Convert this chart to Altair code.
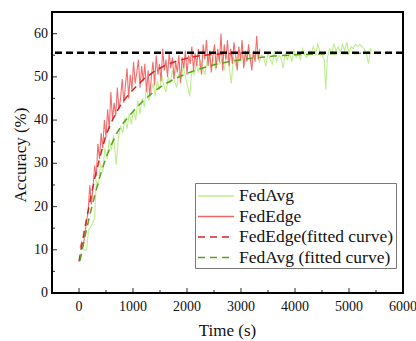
import altair as alt
import pandas as pd

# ---------------- data ----------------
edge_t = [20, 50, 80, 110, 140, 170, 200, 230, 260, 290, 320, 350, 380, 410, 440, 470, 500, 530, 560, 590,
          620, 650, 680, 710, 740, 770, 800, 830, 860, 890, 920, 950, 980, 1010, 1040, 1070, 1100, 1130, 1160, 1190,
          1220, 1250, 1280, 1310, 1340, 1370, 1400, 1430, 1460, 1490, 1520, 1550, 1580, 1610, 1640, 1670, 1700, 1730,
          1760, 1790, 1820, 1850, 1880, 1910, 1940, 1970, 2000, 2030, 2060, 2090, 2120, 2150, 2180, 2210, 2240, 2270,
          2300, 2330, 2360, 2390, 2420, 2450, 2480, 2510, 2540, 2570, 2600, 2630, 2660, 2690, 2720, 2750, 2780, 2810,
          2840, 2870, 2900, 2930, 2960, 2990, 3020, 3050, 3080, 3110, 3140, 3170, 3200, 3230, 3260, 3290, 3320, 3350]
edge_acc = [10.5, 11.8, 10.8, 14.0, 16.5, 19.0, 25.0, 20.5, 24.5, 29.5, 27.0, 34.5, 31.0, 37.0, 33.5, 40.0, 36.0, 42.5, 38.0, 46.5,
            40.0, 44.0, 41.0, 47.5, 42.5, 45.0, 49.5, 44.0, 48.0, 52.0, 45.0, 50.5, 47.0, 53.5, 48.5, 51.0, 54.0, 47.5, 52.5, 49.0,
            53.0, 46.5, 51.5, 45.5, 50.0, 53.5, 48.0, 55.0, 50.5, 53.0, 49.0, 56.5, 51.5, 54.0, 50.0, 55.5, 52.0, 54.5,
            49.5, 53.5, 51.0, 55.0, 48.5, 54.5, 52.0, 56.0, 50.5, 55.0, 53.0, 57.0, 51.5, 55.5, 52.5, 56.5, 53.5, 50.5,
            57.5, 54.0, 58.5, 52.5, 56.0, 51.0, 55.0, 57.5, 52.0, 56.5, 53.5, 60.0, 51.5, 57.5, 54.0, 58.5, 52.5, 56.5,
            53.0, 58.0, 55.0, 51.5, 57.0, 54.0, 58.5, 52.0, 56.0, 53.5, 57.5, 54.5, 51.5, 56.0, 53.5, 59.5, 54.0, 56.5]

avg_t = [20, 60, 100, 140, 175, 210, 250, 290, 320, 360, 400, 440, 480, 520, 560, 600, 640, 690, 730, 770,
         810, 850, 890, 930, 970, 1010, 1050, 1090, 1130, 1170, 1210, 1250, 1290, 1330, 1370, 1410, 1450, 1490, 1530, 1570,
         1610, 1650, 1690, 1730, 1770, 1810, 1850, 1890, 1930, 1970, 2010, 2050, 2090, 2130, 2170, 2210, 2250, 2290, 2330, 2370,
         2410, 2450, 2490, 2530, 2570, 2610, 2650, 2690, 2730, 2770, 2820, 2860, 2900, 2940, 2980, 3020, 3060, 3100, 3140, 3180,
         3220, 3260, 3300, 3340, 3380, 3420, 3460, 3500, 3540, 3580, 3620, 3660, 3700, 3740, 3780, 3820, 3860, 3900, 3940, 3980,
         4020, 4060, 4100, 4140, 4180, 4220, 4260, 4300, 4340, 4380, 4420, 4460, 4500, 4540, 4570, 4600, 4640, 4680, 4720, 4760,
         4800, 4840, 4880, 4920, 4960, 5000, 5040, 5080, 5120, 5160, 5200, 5240, 5280, 5320, 5360, 5400, 5430]
avg_acc = [10.0, 10.2, 9.9, 10.0, 14.5, 15.2, 16.0, 17.5, 26.0, 25.0, 30.0, 28.0, 33.5, 31.0, 35.5, 33.0, 36.5, 29.6, 36.0, 38.5,
           37.0, 40.5, 38.0, 41.5, 39.0, 42.5, 40.0, 44.5, 41.5, 45.0, 43.0, 47.5, 44.5, 46.0, 48.5, 45.5, 49.0, 47.0, 50.5, 48.0,
           46.5, 50.0, 48.5, 51.5, 49.0, 47.5, 51.0, 49.5, 52.5, 50.0, 48.0, 45.5, 51.5, 50.5, 53.0, 51.0, 54.0, 52.0, 50.5, 53.5,
           55.0, 52.0, 54.5, 51.5, 55.5, 53.0, 54.0, 51.5, 55.0, 53.5, 48.5, 54.5, 52.5, 55.5, 53.5, 55.0, 52.5, 54.5, 56.0, 53.0,
           55.0, 54.0, 56.0, 53.5, 55.0, 54.5, 52.5, 55.5, 54.0, 53.0, 56.0, 53.5, 55.0, 54.5, 52.0, 55.5, 54.0, 55.5, 53.5, 56.0,
           54.5, 55.5, 54.0, 56.5, 55.0, 54.5, 56.0, 55.5, 57.0, 55.0, 57.5, 56.0, 55.0, 54.0, 47.0, 54.5, 56.5, 55.5, 57.5, 56.0,
           57.0, 55.5, 57.5, 56.0, 58.0, 55.5, 57.0, 56.5, 57.5, 57.0, 57.5, 57.0, 56.5, 55.5, 53.0, 56.5, 56.0]

edge_fit_t = [0, 100, 200, 300, 400, 500, 600, 700, 800, 900, 1000, 1200, 1400, 1600, 1800, 2000, 2200, 2400, 2600,
              2800, 3000, 3300]
edge_fit_acc = [7.3, 14.5, 21.0, 27.0, 32.0, 36.5, 39.5, 42.0, 44.0, 45.6, 47.0, 49.5, 51.3, 52.7, 53.6, 54.3, 54.8, 55.1,
                55.3, 55.4, 55.5, 55.5]

avg_fit_t = [20, 100, 200, 300, 400, 500, 600, 700, 800, 1000, 1200, 1400, 1600, 1800, 2000, 2200, 2500, 2800, 3200,
             3600, 4000, 4500, 5000, 5400]
avg_fit_acc = [7.5, 12.5, 18.0, 23.0, 27.5, 31.3, 34.3, 37.0, 39.0, 42.0, 44.6, 46.7, 48.4, 49.7, 50.8, 51.7, 52.8, 53.6,
               54.3, 54.8, 55.1, 55.3, 55.4, 55.5]

baseline_acc = [55.6]

series_names = ["FedAvg", "FedEdge", "FedEdge(fitted curve)", "FedAvg (fitted curve)"]
series_colors = ["#bdee8e", "#f26565", "#d42424", "#5e9e22"]
series_dash = [[1, 0], [1, 0], [7, 5], [7, 5]]

x_min = -500
y_min = 0
x_major = [0, 1000, 2000, 3000, 4000, 5000, 6000]
x_minor = [500, 1500, 2500, 3500, 4500, 5500]
y_major = [0, 10, 20, 30, 40, 50, 60]
y_minor = [5, 15, 25, 35, 45, 55]
x_title = "Time (s)"
y_title = "Accuracy (%)"

# ---------------- frames ----------------
def frame(ts, vals, name):
    return pd.DataFrame({"t": ts, "acc": vals, "series": name})

df_avg = frame(avg_t, avg_acc, series_names[0])
df_edge = frame(edge_t, edge_acc, series_names[1])
df_efit = frame(edge_fit_t, edge_fit_acc, series_names[2])
df_afit = frame(avg_fit_t, avg_fit_acc, series_names[3])

FONT = "Times New Roman, Liberation Serif, DejaVu Serif, serif"
W, H = 351, 281

xscale = alt.Scale(domain=[x_min, 6000], nice=False, zero=False)
yscale = alt.Scale(domain=[y_min, 65], nice=False)

legend = alt.Legend(title=None, orient="none", legendX=143, legendY=171,
                    symbolType="M-1.8,0L1.8,0", symbolSize=400, symbolStrokeWidth=1.5,
                    symbolOffset=8, labelOffset=12,
                    labelFont=FONT, labelFontSize=17.5, labelColor="#111",
                    strokeColor="#777", fillColor="white", padding=2, rowPadding=0.5,
                    labelLimit=300)

color = alt.Color("series:N", scale=alt.Scale(domain=series_names, range=series_colors), legend=legend)
dash = alt.StrokeDash("series:N", scale=alt.Scale(domain=series_names, range=series_dash), legend=legend)

X = alt.X("t:Q", scale=xscale, axis=None)
Y = alt.Y("acc:Q", scale=yscale, axis=None)

def line(df, width, opacity=1.0):
    return alt.Chart(df).mark_line(strokeWidth=width, opacity=opacity).encode(
        x=X, y=Y, color=color, strokeDash=dash)

l_avg = line(df_avg, 1.1)
l_edge = line(df_edge, 1.1, 0.95)
l_efit = line(df_efit, 1.5)
l_afit = line(df_afit, 1.5)

base_line = alt.Chart(pd.DataFrame({"acc": baseline_acc})).mark_rule(
    color="black", strokeWidth=2.5, strokeDash=[7, 4]).encode(y=Y)

def xticks(vals, size):
    df = pd.DataFrame({"t": vals, "acc": [y_min] * len(vals)})
    return alt.Chart(df).mark_tick(orient="vertical", size=size, thickness=1.2, color="black",
                                   yOffset=-size / 2).encode(x=X, y=Y)

def yticks(vals, size):
    df = pd.DataFrame({"acc": vals, "t": [x_min] * len(vals)})
    return alt.Chart(df).mark_tick(orient="horizontal", size=size, thickness=1.2, color="black",
                                   xOffset=size / 2).encode(x=X, y=Y)

x_lab_df = pd.DataFrame({"t": x_major, "acc": [y_min] * len(x_major), "lab": [str(v) for v in x_major]})
x_labels = alt.Chart(x_lab_df).mark_text(font=FONT, fontSize=14, baseline="top", align="center",
                                         dy=7, color="#111").encode(x=X, y=Y, text="lab:N")
y_lab_df = pd.DataFrame({"acc": y_major, "t": [x_min] * len(y_major), "lab": [str(v) for v in y_major]})
y_labels = alt.Chart(y_lab_df).mark_text(font=FONT, fontSize=14, baseline="middle", align="right",
                                         dx=-4, color="#111").encode(x=X, y=Y, text="lab:N")

x_title_mark = alt.Chart(pd.DataFrame({"lab": [x_title]})).mark_text(
    font=FONT, fontSize=17, baseline="middle", align="center", color="#111").encode(
    x=alt.value(W / 2), y=alt.value(H + 38), text="lab:N")
y_title_mark = alt.Chart(pd.DataFrame({"lab": [y_title]})).mark_text(
    font=FONT, fontSize=17, baseline="middle", align="center", angle=270, color="#111").encode(
    x=alt.value(-31), y=alt.value(143), text="lab:N")

chart = alt.layer(l_avg, l_edge, l_efit, l_afit, base_line,
                  xticks(x_major, 5), xticks(x_minor, 3), yticks(y_major, 5), yticks(y_minor, 3),
                  x_labels, y_labels, x_title_mark, y_title_mark).properties(
    width=W, height=H,
    autosize=alt.AutoSizeParams(type="none"),
    padding={"left": 52, "top": 12, "right": 13, "bottom": 48},
    background="white",
).configure_view(stroke="black", strokeWidth=2)

chart.save("out.html", embed_options={"renderer": "svg", "actions": False})
